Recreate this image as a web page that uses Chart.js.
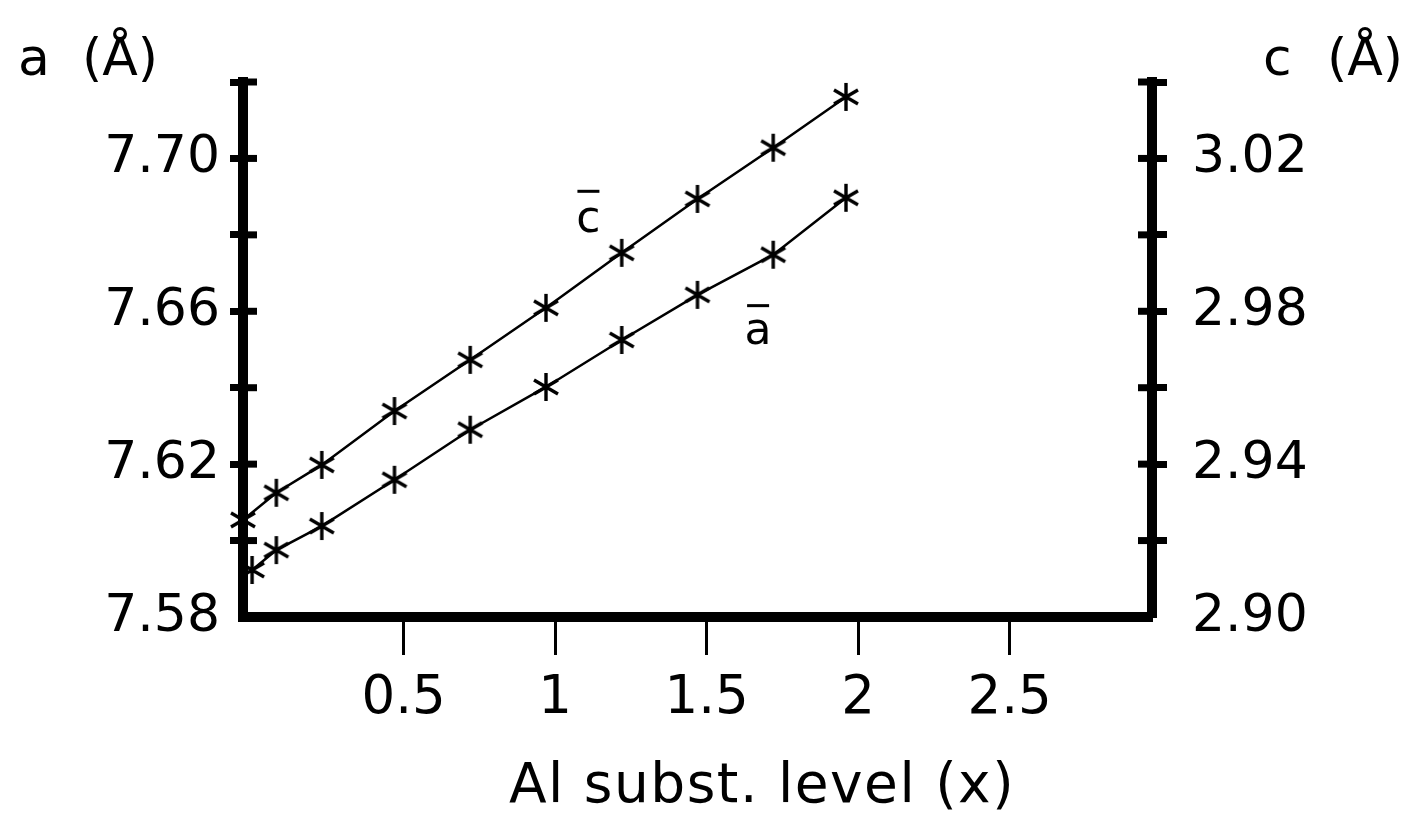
<!DOCTYPE html>
<html>
<head>
<meta charset="utf-8">
<title>Lattice parameters vs Al substitution</title>
<script src="https://cdn.jsdelivr.net/npm/chart.js@4.4.1/dist/chart.umd.min.js"></script>
<style>
  html, body { margin: 0; padding: 0; background: #fff; }
  canvas { display: block; }
</style>
</head>
<body>
<canvas id="latticeChart" width="1416" height="817"></canvas>
<script>
// Al substitution level (x) of each sample
const xLevelA = [0, 0.08, 0.23, 0.47, 0.72, 0.97, 1.22, 1.47, 1.72, 1.96];
const xLevelC = [-0.03, 0.08, 0.23, 0.47, 0.72, 0.97, 1.22, 1.47, 1.72, 1.96];

// lattice parameters (Å)
const aValues = [7.5923, 7.5975, 7.6038, 7.6159, 7.6290, 7.6402, 7.6525, 7.6643, 7.6748, 7.6897];
const cValues = [2.9254, 2.9325, 2.9398, 2.9539, 2.9673, 2.9809, 2.9953, 3.0094, 3.0228, 3.0361];

// axis ticks
const xTickValues = [0.5, 1, 1.5, 2, 2.5];
const xTickLabels = ['0.5', '1', '1.5', '2', '2.5'];
const aTickValues = [7.58, 7.60, 7.62, 7.64, 7.66, 7.68, 7.70, 7.72];
const aTickLabels = ['7.58', '7.62', '7.66', '7.70'];
const cTickValues = [2.90, 2.92, 2.94, 2.96, 2.98, 3.00, 3.02, 3.04];
const cTickLabels = ['2.90', '2.94', '2.98', '3.02'];

const FONT = 'DejaVu Sans';

// 6-armed asterisk used as the point marker
function makeAsterisk() {
  const cv = document.createElement('canvas');
  cv.width = 30;
  cv.height = 32;
  const g = cv.getContext('2d');
  const cx = 15, cy = 16;
  g.strokeStyle = '#000';
  g.lineWidth = 3.4;
  g.beginPath();
  g.moveTo(cx, cy - 14); g.lineTo(cx, cy + 14);
  g.moveTo(cx - 12, cy - 7); g.lineTo(cx + 12, cy + 7);
  g.moveTo(cx - 12, cy + 7); g.lineTo(cx + 12, cy - 7);
  g.stroke();
  return cv;
}
const asterisk = makeAsterisk();

const toPoints = (xs, ys) => xs.map((x, i) => ({ x, y: ys[i] }));

// tick marks on the y axes cross the axis: draw the inner half
const innerTicks = {
  id: 'innerTicks',
  beforeDatasetsDraw(chart) {
    const ctx = chart.ctx;
    ctx.save();
    ctx.strokeStyle = '#000';
    ctx.lineWidth = 7;
    [['ya', aTickValues, 1], ['yc', cTickValues, -1]].forEach(([id, vals, dir]) => {
      const s = chart.scales[id];
      const x0 = dir > 0 ? s.right : s.left;
      vals.slice(1).forEach(v => {
        const y = s.getPixelForValue(v);
        ctx.beginPath();
        ctx.moveTo(x0, y);
        ctx.lineTo(x0 + dir * 14, y);
        ctx.stroke();
      });
    });
    ctx.restore();
  }
};

// axis titles and curve labels (letter with an overbar)
const textLabels = {
  id: 'textLabels',
  afterDraw(chart) {
    const ctx = chart.ctx;
    const xs = chart.scales.x, ya = chart.scales.ya;
    ctx.save();
    ctx.fillStyle = '#000';
    ctx.textBaseline = 'alphabetic';
    ctx.font = `52px "${FONT}"`;
    ctx.textAlign = 'left';
    ctx.fillText('a', 18, 75);
    ctx.fillText('(Å)', 82, 75);
    ctx.fillText('c', 1263, 75);
    ctx.fillText('(Å)', 1327, 75);

    ctx.font = `55px "${FONT}"`;
    ctx.textAlign = 'center';
    if ('letterSpacing' in ctx) ctx.letterSpacing = '1.5px';
    ctx.fillText('Al subst. level (x)', 762, 802);
    if ('letterSpacing' in ctx) ctx.letterSpacing = '0px';

    ctx.font = `44px "${FONT}"`;
    const cx = xs.getPixelForValue(1.11), cy = ya.getPixelForValue(7.6808);
    ctx.fillText('c', cx, cy);
    ctx.fillRect(cx - 11, cy - 42, 22, 3);
    const ax = xs.getPixelForValue(1.67), ay = ya.getPixelForValue(7.6514);
    ctx.fillText('a', ax, ay);
    ctx.fillRect(ax - 11, ay - 40, 22, 3);
    ctx.restore();
  }
};

const hideBottomTick = (base) => (c) =>
  (c.tick && Math.abs(c.tick.value - base) < 1e-6) ? 'rgba(0,0,0,0)' : '#000';

const lineStyle = {
  borderColor: '#000',
  borderWidth: 2.5,
  pointStyle: asterisk,
  pointRadius: 14,
  tension: 0,
  fill: false,
  clip: false
};

new Chart(document.getElementById('latticeChart').getContext('2d'), {
  type: 'line',
  data: {
    datasets: [
      { label: 'c', data: toPoints(xLevelC, cValues), yAxisID: 'yc', ...lineStyle },
      { label: 'a', data: toPoints(xLevelA, aValues), yAxisID: 'ya', ...lineStyle }
    ]
  },
  options: {
    responsive: false,
    animation: false,
    devicePixelRatio: 1,
    layout: { padding: { top: 82, left: 0, right: 0, bottom: 0 } },
    plugins: { legend: { display: false }, tooltip: { enabled: false } },
    scales: {
      x: {
        type: 'linear',
        position: 'bottom',
        min: -0.03,
        max: 2.97,
        afterFit: s => { s.height = 200; },
        afterBuildTicks: s => { s.ticks = xTickValues.map(v => ({ value: v })); },
        grid: { drawOnChartArea: false, tickLength: 38, tickWidth: 3, tickColor: '#000' },
        border: { width: 10, color: '#000' },
        ticks: {
          padding: 12,
          color: '#000',
          font: { family: FONT, size: 53 },
          maxRotation: 0,
          callback: v => {
            const i = xTickValues.findIndex(t => Math.abs(t - v) < 1e-6);
            return i >= 0 ? xTickLabels[i] : '';
          }
        }
      },
      ya: {
        type: 'linear',
        position: 'left',
        min: 7.58,
        max: 7.72,
        afterFit: s => { s.width = 243; },
        afterBuildTicks: s => { s.ticks = aTickValues.map(v => ({ value: v })); },
        grid: { drawOnChartArea: false, tickLength: 13, tickWidth: 7, tickColor: hideBottomTick(7.58) },
        border: { width: 10, color: '#000' },
        ticks: {
          padding: 10,
          color: '#000',
          font: { family: FONT, size: 52 },
          callback: v => {
            const s = v.toFixed(2);
            return aTickLabels.includes(s) ? s : '';
          }
        }
      },
      yc: {
        type: 'linear',
        position: 'right',
        min: 2.90,
        max: 3.04,
        afterFit: s => { s.width = 264; },
        afterBuildTicks: s => { s.ticks = cTickValues.map(v => ({ value: v })); },
        grid: { drawOnChartArea: false, tickLength: 15, tickWidth: 7, tickColor: hideBottomTick(2.90) },
        border: { width: 10, color: '#000' },
        ticks: {
          padding: 25,
          color: '#000',
          font: { family: FONT, size: 52 },
          callback: v => {
            const s = v.toFixed(2);
            return cTickLabels.includes(s) ? s : '';
          }
        }
      }
    }
  },
  plugins: [innerTicks, textLabels]
});
</script>
</body>
</html>
